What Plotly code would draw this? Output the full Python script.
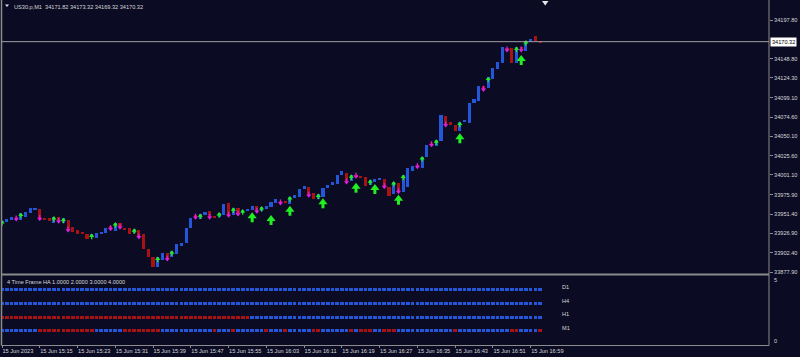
import plotly.graph_objects as go

# ---------------- data ----------------
symbol_name = "US30.p,M1"
last_ohlc = [34171.82, 34173.32, 34169.32, 34170.32]

# Heiken-Ashi M1 bodies, one per minute from 15:07 to 17:01
ha_open = [
    33939.7, 33941.4, 33944.3, 33946.9, 33943.6, 33947.4, 33953.2, 33957.0, 33958.3, 33946.5,
    33946.9, 33940.5, 33948.1, 33940.5, 33943.6, 33934.7, 33931.6, 33927.4, 33926.5, 33922.0,
    33921.5, 33926.5, 33927.0, 33936.3, 33930.0, 33940.1, 33933.8, 33933.8, 33927.8, 33931.2,
    33925.8, 33907.1, 33897.3, 33884.7, 33893.2, 33901.7, 33896.6, 33900.8, 33910.9, 33915.1,
    33933.8, 33949.9, 33945.6, 33949.9, 33955.0, 33949.0, 33947.4, 33950.3, 33965.1, 33950.7,
    33959.2, 33952.4, 33955.7, 33956.6, 33961.3, 33955.4, 33957.5, 33960.4, 33965.9, 33967.2,
    33966.8, 33964.2, 33972.2, 33973.5, 33983.3, 33986.2, 33978.6, 33970.6, 33973.5, 33984.6,
    33988.7, 33989.6, 34001.1, 34004.0, 33993.1, 34001.4, 33998.5, 33998.5, 33988.4, 33993.4,
    33994.3, 33996.0, 33986.2, 33976.9, 33990.9, 33979.9, 33986.2, 34006.1, 34013.7, 34010.3,
    34023.5, 34042.1, 34037.9, 34044.6, 34075.9, 34068.7, 34064.1, 34056.9, 34068.7, 34067.4,
    34092.5, 34095.4, 34114.4, 34111.1, 34123.3, 34135.2, 34143.6, 34162.3, 34161.9, 34143.6,
    34163.9, 34158.5, 34169.9, 34177.5, 34171.2,
]
ha_close = [
    33943.0, 33945.2, 33948.1, 33945.2, 33952.4, 33954.1, 33958.8, 33959.2, 33945.6, 33944.8,
    33942.7, 33948.1, 33942.3, 33946.1, 33931.2, 33929.1, 33926.5, 33926.2, 33920.2, 33925.8,
    33927.4, 33927.8, 33934.2, 33932.9, 33940.5, 33934.7, 33932.1, 33926.5, 33932.5, 33922.4,
    33906.7, 33896.6, 33884.7, 33896.6, 33902.4, 33894.4, 33904.6, 33913.1, 33915.1, 33933.4,
    33946.5, 33947.4, 33951.5, 33954.1, 33947.4, 33947.7, 33953.2, 33964.6, 33949.9, 33959.2,
    33951.5, 33957.0, 33957.9, 33961.7, 33955.0, 33960.8, 33961.7, 33967.2, 33970.6, 33965.5,
    33965.9, 33973.5, 33975.3, 33983.7, 33986.7, 33975.3, 33971.0, 33976.6, 33984.9, 33988.4,
    33992.2, 34000.7, 34006.1, 33992.2, 34001.1, 33999.4, 33997.6, 33987.1, 33994.7, 33995.6,
    33996.9, 33986.2, 33974.4, 33992.6, 33979.9, 34000.7, 34009.9, 34012.9, 34011.6, 34024.3,
    34039.1, 34039.5, 34045.5, 34076.8, 34064.5, 34064.1, 34056.5, 34068.0, 34069.6, 34092.5,
    34097.5, 34113.7, 34109.8, 34125.1, 34136.9, 34144.5, 34163.2, 34159.7, 34143.2, 34163.2,
    34159.7, 34171.5, 34173.7, 34170.8, 34169.5,
]

# small signal marks (bar indices)
up_marks = [0, 4, 11, 13, 19, 24, 28, 33, 36, 42, 46, 49, 51, 55, 61, 67, 74, 78, 83, 85,
            89, 92, 97, 103, 109, 111]
down_marks = [3, 8, 12, 14, 23, 25, 29, 35, 41, 44, 48, 50, 54, 59, 65, 73, 75, 81, 84, 88,
              91, 94, 102, 107, 110]
# big buy arrows: bar index and price of the arrow tip
buy_arrow_bars = [53, 57, 61, 68, 75, 79, 84, 97, 110]
buy_arrow_price = [33953.7, 33950.3, 33962.1, 33971.5, 33991.3, 33989.6, 33976.0, 34054.0, 34153.4]

price_ticks = [34197.80, 34148.80, 34124.30, 34099.10, 34074.60, 34050.10, 34025.60,
               34001.10, 33975.90, 33951.40, 33926.90, 33902.40, 33877.90]

time_tick_bars = [0, 8, 16, 24, 32, 40, 48, 56, 64, 72, 80, 88, 96, 104, 112]
time_tick_labels = ["15 Jun 2023", "15 Jun 15:15", "15 Jun 15:23", "15 Jun 15:31",
                    "15 Jun 15:39", "15 Jun 15:47", "15 Jun 15:55", "15 Jun 16:03",
                    "15 Jun 16:11", "15 Jun 16:19", "15 Jun 16:27", "15 Jun 16:35",
                    "15 Jun 16:43", "15 Jun 16:51", "15 Jun 16:59"]

# 4 Time Frame HA states per bar (B = up/blue, R = down/red)
tf_names = ["D1", "H4", "H1", "M1"]
tf_levels = [4, 3, 2, 1]
tf_d1 = ("BBBBBBBBBB" "BBBBBBBBBB" "BBBBBBBBBB" "BBBBBBBBBB" "BBBBBBBBBB" "BBBBBBBBBB"
         "BBBBBBBBBB" "BBBBBBBBBB" "BBBBBBBBBB" "BBBBBBBBBB" "BBBBBBBBBB" "BBBBB")
tf_h4 = ("BBBBBBBBBB" "BBBBBBBBBB" "BBBBBBBBBB" "BBBBBBBBBB" "BBBBBBBBBB" "BBBBBBBBBB"
         "BBBBBBBBBB" "BBBBBBBBBB" "BBBBBBBBBB" "BBBBBBBBBB" "BBBBBBBBBB" "BBBBB")
tf_h1 = ("RRRRRRRRRR" "RRRRRRRRRR" "RRRRRRRRRR" "RRRRRRRRRR" "RRRRRRRRRR" "RRRBBBBBBB"
         "BBBBBBBBBB" "BBBBBBBBBB" "BBBBBBBBBB" "BBBBBBBBBB" "BBBBBBBBBB" "BBBBB")
tf_m1 = ("BBBBBBBBRR" "RRRRRRRRRR" "BBBBBBRRRR" "RRRRBBBBBB" "BBBBBRBBBR" "BBBBBBRBBB"
         "RBBBBBRRBB" "BBBBRBRRRB" "BRRRBBBBBB" "BBBBBBRBBB" "BBBBBBBBRR" "BBBBR")
tf_states = [tf_d1, tf_h4, tf_h1, tf_m1]

# ---------------- styling / geometry ----------------
W, H = 800, 357
BG = "#0b0b24"
BLUE = "#2356d8"
RED = "#a81212"
GREEN = "#22ee22"
MAGENTA = "#e01ee0"
FRAME = "#8c8c8c"
TXT = "#d8d8d8"
FONT = "Liberation Sans"
FS = 5.6

X_LEFT, X_RIGHT = 2.0, 769.0          # plot area in px
BAR_PX = 4.72                          # px per bar
MAIN_BOT = 273.5
Y_TOP, Y_BOT = 34223.2, 33876.0        # main price range
pp = (Y_TOP - Y_BOT) / MAIN_BOT        # price units per px
SUB_TOP, SUB_BOT = 276.0, 345.0
SUB_R0, SUB_R1 = -0.024, 5.02
sub_pp = (SUB_R1 - SUB_R0) / (SUB_BOT - SUB_TOP)


def pxx(px):
    return px / W


def pxy(py):
    return 1 - py / H


n = len(ha_open)
idx = list(range(n))
x_range = [0, (X_RIGHT - X_LEFT) / BAR_PX]

fig = go.Figure()

# candles
tops = [max(o, c) for o, c in zip(ha_open, ha_close)]
bots = [min(o, c) for o, c in zip(ha_open, ha_close)]
heights = [max(t - b, 1.0 * pp) for t, b in zip(tops, bots)]
cols = [BLUE if c >= o else RED for o, c in zip(ha_open, ha_close)]
fig.add_trace(go.Bar(x=idx, y=heights, base=bots, width=0.66, marker_color=cols,
                     marker_line_width=0, xaxis="x", yaxis="y", hoverinfo="skip"))

# small green up marks on top of bars
fig.add_trace(go.Scatter(x=up_marks, y=[tops[i] - 1.6 * pp for i in up_marks], mode="markers",
                         marker=dict(symbol="triangle-up", size=4.5, color=GREEN, line_width=0),
                         xaxis="x", yaxis="y", hoverinfo="skip"))
fig.add_trace(go.Scatter(x=up_marks, y=[tops[i] - 3.2 * pp for i in up_marks], mode="markers",
                         marker=dict(symbol="line-ns", size=2.5, line=dict(width=1.3, color=GREEN)),
                         xaxis="x", yaxis="y", hoverinfo="skip"))
# small magenta down marks
fig.add_trace(go.Scatter(x=down_marks, y=[bots[i] - 0.3 * pp for i in down_marks], mode="markers",
                         marker=dict(symbol="triangle-down", size=4.5, color=MAGENTA, line_width=0),
                         xaxis="x", yaxis="y", hoverinfo="skip"))
fig.add_trace(go.Scatter(x=down_marks, y=[bots[i] + 1.8 * pp for i in down_marks], mode="markers",
                         marker=dict(symbol="line-ns", size=2.5, line=dict(width=1.3, color=MAGENTA)),
                         xaxis="x", yaxis="y", hoverinfo="skip"))
# big buy arrows
fig.add_trace(go.Scatter(x=buy_arrow_bars, y=[p - 4.0 * pp for p in buy_arrow_price], mode="markers",
                         marker=dict(symbol="triangle-up", size=8, color=GREEN, line_width=0),
                         xaxis="x", yaxis="y", hoverinfo="skip"))
fig.add_trace(go.Scatter(x=buy_arrow_bars, y=[p - 7.2 * pp for p in buy_arrow_price], mode="markers",
                         marker=dict(symbol="line-ns", size=4, line=dict(width=3, color=GREEN)),
                         xaxis="x", yaxis="y", hoverinfo="skip"))

# sub-window squares
sq_h = 3.0 * sub_pp
for lvl, states in zip(tf_levels, tf_states):
    fig.add_trace(go.Bar(x=idx, y=[sq_h] * n, base=[lvl - sq_h / 2] * n, width=0.78,
                         marker_color=[BLUE if s == "B" else RED for s in states],
                         marker_line_width=0, xaxis="x2", yaxis="y2", hoverinfo="skip"))

shapes = []
line = dict(color=FRAME, width=1)
shapes.append(dict(type="line", xref="paper", yref="paper", x0=pxx(1.5), x1=pxx(1.5),
                   y0=pxy(0), y1=pxy(345.5), line=dict(color=FRAME, width=1.5)))
shapes.append(dict(type="line", xref="paper", yref="paper", x0=pxx(769), x1=pxx(769),
                   y0=pxy(0), y1=pxy(345.5), line=line))
shapes.append(dict(type="line", xref="paper", yref="paper", x0=pxx(1.5), x1=pxx(769),
                   y0=pxy(274.5), y1=pxy(274.5), line=dict(color=FRAME, width=2)))
shapes.append(dict(type="line", xref="paper", yref="paper", x0=pxx(1.5), x1=pxx(769),
                   y0=pxy(345.5), y1=pxy(345.5), line=line))
# bid line
shapes.append(dict(type="line", xref="paper", yref="y", x0=pxx(1.5), x1=pxx(769),
                   y0=last_ohlc[3], y1=last_ohlc[3], line=dict(color="#a0a0a0", width=1)))
# title triangle and chart shift triangle
shapes.append(dict(type="path", xref="paper", yref="paper",
                   path=f"M{pxx(5)},{pxy(4.5)} L{pxx(9)},{pxy(4.5)} L{pxx(7)},{pxy(7)} Z",
                   fillcolor="#e0e0e0", line_width=0))
shapes.append(dict(type="path", xref="paper", yref="paper",
                   path=f"M{pxx(542)},{pxy(1)} L{pxx(548.5)},{pxy(1)} L{pxx(545.2)},{pxy(5.5)} Z",
                   fillcolor="#e8e8e8", line_width=0))

ann = []
ann.append(dict(xref="paper", yref="paper", x=pxx(11.5), y=pxy(6.5), xanchor="left",
                yanchor="middle", showarrow=False,
                text=f"{symbol_name}  " + " ".join(f"{v:.2f}" for v in last_ohlc),
                font=dict(family=FONT, size=FS, color=TXT)))
ann.append(dict(xref="paper", yref="y", x=pxx(770), y=last_ohlc[3], xanchor="left",
                yanchor="middle", showarrow=False, text=f"{last_ohlc[3]:.2f}",
                bgcolor="#ffffff", borderpad=1, font=dict(family=FONT, size=FS, color="#000000")))
ann.append(dict(xref="paper", yref="paper", x=pxx(4.5), y=pxy(281.5), xanchor="left",
                yanchor="middle", showarrow=False,
                text="4 Time Frame HA " + " ".join(f"{v:.4f}" for v in sorted(tf_levels)),
                font=dict(family=FONT, size=FS, color=TXT)))
for name, lvl in zip(tf_names, tf_levels):
    ann.append(dict(xref="paper", yref="y2", x=pxx(559.5), y=lvl + 3.0 * sub_pp,
                    xanchor="left", yanchor="middle", showarrow=False, text=name,
                    font=dict(family=FONT, size=FS, color=TXT)))
ann.append(dict(xref="paper", yref="paper", x=pxx(772), y=pxy(280), xanchor="left",
                yanchor="middle", showarrow=False, text="5",
                font=dict(family=FONT, size=FS, color=TXT)))
ann.append(dict(xref="paper", yref="paper", x=pxx(772), y=pxy(341), xanchor="left",
                yanchor="middle", showarrow=False, text="0",
                font=dict(family=FONT, size=FS, color=TXT)))

fig.update_layout(
    width=W, height=H, margin=dict(l=0, r=0, t=0, b=0, autoexpand=False),
    paper_bgcolor=BG, plot_bgcolor=BG, showlegend=False, barmode="overlay",
    bargap=0, shapes=shapes, annotations=ann,
    xaxis=dict(domain=[pxx(X_LEFT), pxx(X_RIGHT)], range=x_range, anchor="y",
               showgrid=False, zeroline=False, showticklabels=False, ticks="",
               automargin=False),
    yaxis=dict(domain=[pxy(MAIN_BOT), 1], range=[Y_BOT, Y_TOP], anchor="x", side="right",
               tickvals=price_ticks, ticktext=[f"{v:.2f}" for v in price_ticks],
               ticks="outside", ticklen=3, tickcolor=FRAME, tickwidth=1,
               tickfont=dict(family=FONT, size=FS, color=TXT), automargin=False,
               showgrid=False, zeroline=False, showline=False),
    xaxis2=dict(domain=[pxx(X_LEFT), pxx(X_RIGHT)], range=x_range, anchor="y2",
                tickvals=time_tick_bars, ticktext=time_tick_labels, tickangle=0,
                ticks="outside", ticklen=2, tickcolor=FRAME, tickwidth=1,
                ticklabelposition="outside right", automargin=False,
                tickfont=dict(family=FONT, size=FS, color=TXT),
                showgrid=False, zeroline=False, showline=False),
    yaxis2=dict(domain=[pxy(SUB_BOT), pxy(SUB_TOP)], range=[SUB_R0, SUB_R1], anchor="x2",
                side="right", showticklabels=False, ticks="", showgrid=False, zeroline=False,
                automargin=False),
)

fig.write_html("out.html")
